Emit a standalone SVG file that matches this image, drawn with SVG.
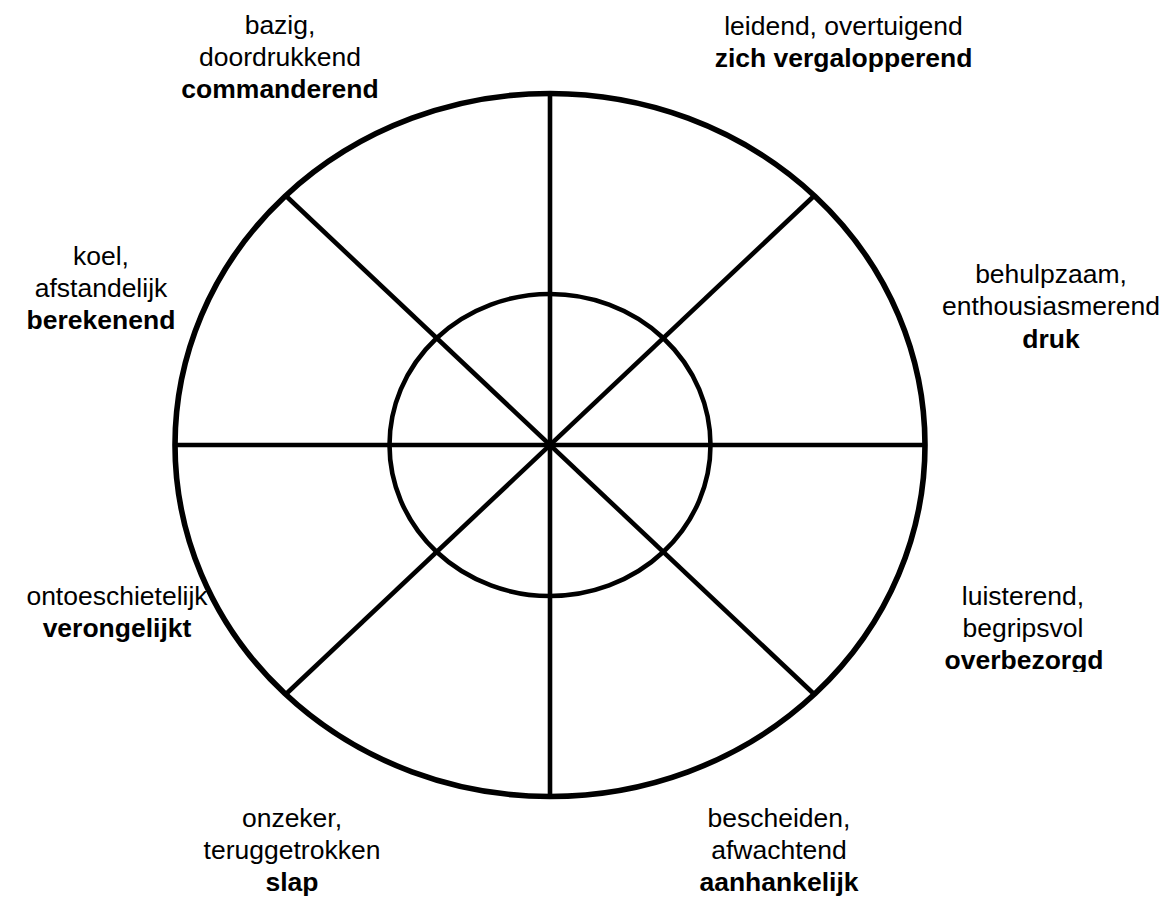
<svg xmlns="http://www.w3.org/2000/svg" width="1168" height="898" viewBox="0 0 1168 898">
<style>
.t{font-family:"Liberation Sans",Arial,sans-serif;font-size:26.5px;fill:#000;text-anchor:middle}
.b{font-weight:bold}
.ring{fill:none;stroke:#000}
.spoke{stroke:#000;stroke-width:4.6;fill:none}
</style>
<defs>
<clipPath id="cutOver"><rect x="900" y="640" width="268" height="32"/></clipPath>
</defs>
<rect width="1168" height="898" fill="#fff"/>
<g id="outer-ring"><ellipse class="ring" cx="550" cy="445" rx="375" ry="351.5" stroke-width="5.6"/></g>
<g id="connectors">
<line class="spoke" x1="550" y1="94" x2="550" y2="797"/>
<line class="spoke" x1="175" y1="445" x2="925" y2="445"/>
<line class="spoke" x1="285" y1="195" x2="815" y2="695"/>
<line class="spoke" x1="815" y1="195" x2="285" y2="695"/>
</g>
<g id="inner-ring"><ellipse class="ring" cx="550" cy="445" rx="160.5" ry="151" stroke-width="4.6"/></g>
<g id="commanderend">
<text class="t" x="280" y="34">bazig,</text>
<text class="t" x="280" y="66">doordrukkend</text>
<text class="t b" x="280" y="98">commanderend</text>
</g>
<g id="zich-vergalopperend">
<text class="t" x="843.5" y="35">leidend, overtuigend</text>
<text class="t b" x="843.5" y="67">zich vergalopperend</text>
</g>
<g id="berekenend">
<text class="t" x="101" y="265">koel,</text>
<text class="t" x="101" y="297">afstandelijk</text>
<text class="t b" x="101" y="329">berekenend</text>
</g>
<g id="druk">
<text class="t" x="1051" y="283">behulpzaam,</text>
<text class="t" x="1051" y="315">enthousiasmerend</text>
<text class="t b" x="1051" y="348">druk</text>
</g>
<g id="verongelijkt">
<text class="t" x="117" y="605">ontoeschietelijk</text>
<text class="t b" x="117" y="637">verongelijkt</text>
</g>
<g id="overbezorgd">
<text class="t" x="1023" y="605">luisterend,</text>
<text class="t" x="1023" y="637">begripsvol</text>
<text class="t b" x="1024" y="669" clip-path="url(#cutOver)">overbezorgd</text>
</g>
<g id="slap">
<text class="t" x="292" y="827">onzeker,</text>
<text class="t" x="292" y="859">teruggetrokken</text>
<text class="t b" x="292" y="891">slap</text>
</g>
<g id="aanhankelijk">
<text class="t" x="779" y="827">bescheiden,</text>
<text class="t" x="779" y="859">afwachtend</text>
<text class="t b" x="779" y="891">aanhankelijk</text>
</g>
</svg>
